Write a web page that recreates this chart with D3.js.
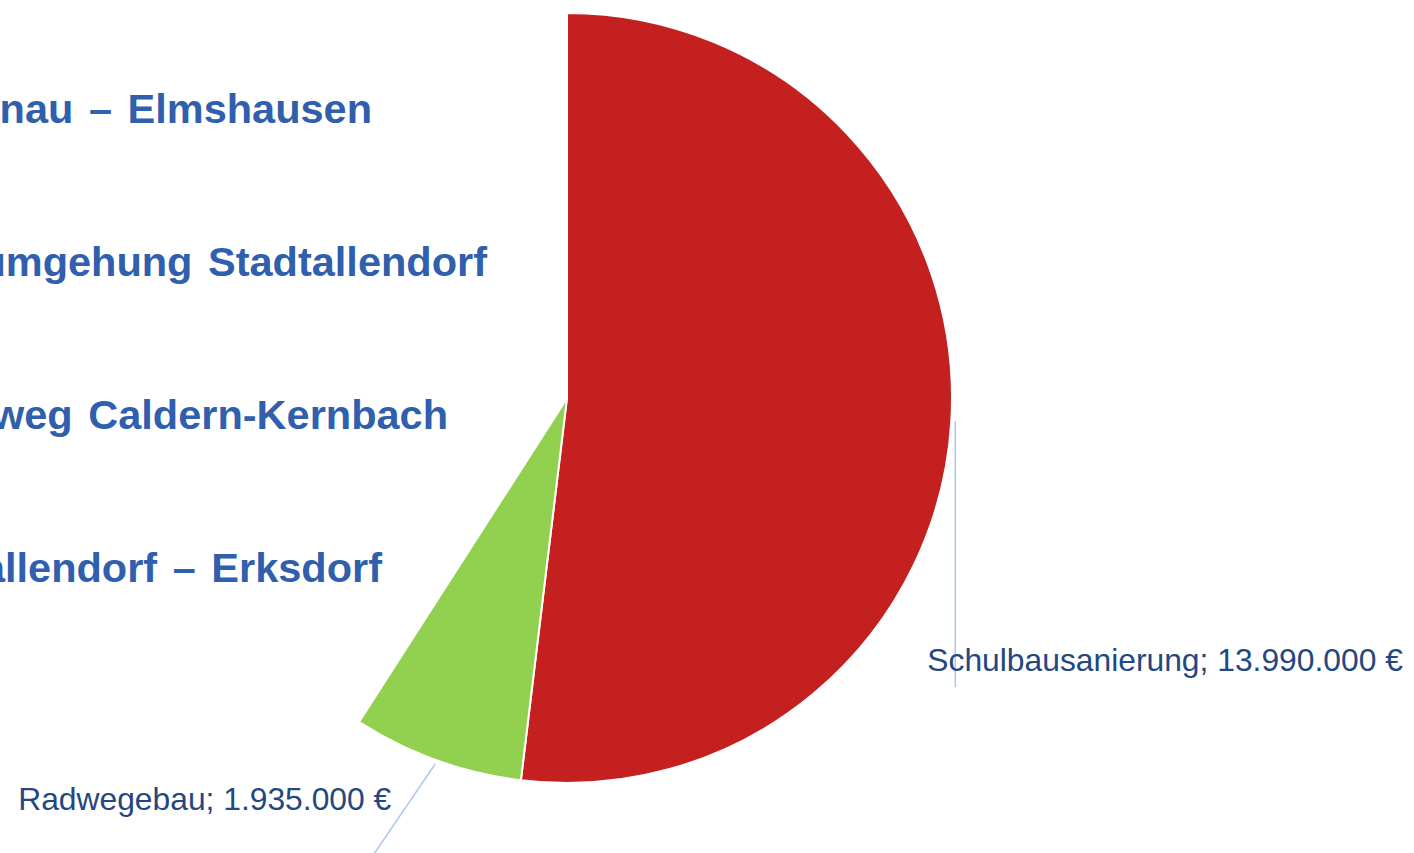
<!DOCTYPE html>
<html>
<head>
<meta charset="utf-8">
<script src="https://cdn.jsdelivr.net/npm/d3@7"></script>
<style>
  html, body { margin: 0; padding: 0; background: #fff; overflow: hidden; }
  .slabel { font-family: "Liberation Sans", Arial, sans-serif; font-size: 31.8px; fill: #24477f; }
  .proj { font-family: "Liberation Sans", Arial, sans-serif; font-size: 41.5px; font-weight: bold; fill: #2f5fad; word-spacing: 4px; }
</style>
</head>
<body>
<div class="chart"></div>
<script>
// slice data (Euro)
var categories = ["Schulbausanierung", "Radwegebau", "Sonstige"];
var values = [13990000, 1935000, 11025000];
var sliceColors = ["#c52020", "#92d050", "#ffffff"];
var showLabel = [true, true, false];

// headline texts on the left (cut off by the page edge)
var projects = [
  "Radweg Buchenau – Elmshausen",
  "Ortsumgehung Stadtallendorf",
  "Radweg  Caldern-Kernbach",
  "Radweg Stadtallendorf – Erksdorf"
];

var svgWidth = 1414;
var svgHeight = 853;
var cx = 567, cy = 398, radius = 385;

var svg = d3.select(".chart")
  .append("svg")
  .attr("width", svgWidth)
  .attr("height", svgHeight);

var data = categories.map(function(c, i) {
  return { name: c, value: values[i], color: sliceColors[i], label: showLabel[i] };
});

var pie = d3.pie()
  .sort(null)
  .value(function(d) { return d.value; });

var arc = d3.arc().innerRadius(0).outerRadius(radius);

var arcs = pie(data);

var chart = svg.append("g")
  .attr("transform", `translate(${cx}, ${cy})`);

chart.selectAll("path.slice")
  .data(arcs)
  .enter().append("path")
  .attr("class", "slice")
  .attr("d", arc)
  .style("fill", function(d) { return d.data.color; })
  .style("stroke", "#fff")
  .style("stroke-width", 2);

// project headlines, right aligned
var projY = d3.scalePoint()
  .domain(projects)
  .range([123, 582]);
var projRight = [372, 487, 448, 382];

svg.selectAll("text.proj")
  .data(projects)
  .enter().append("text")
  .attr("class", "proj")
  .attr("x", function(d, i) { return projRight[i]; })
  .attr("y", function(d) { return projY(d); })
  .attr("text-anchor", "end")
  .text(function(d) { return d; });

// leader lines + labels
var fmt = d3.formatLocale({ decimal: ",", thousands: ".", grouping: [3], currency: ["", " €"] }).format("$,");
var leaderArc = d3.arc().innerRadius(radius + 4).outerRadius(radius + 4);

function leaderStart(d) {
  var a = (d.startAngle + d.endAngle) / 2;
  return [(radius + 4) * Math.sin(a), -(radius + 4) * Math.cos(a)];
}

// leader ends / label anchors relative to slice mid-point
var labelLayout = {
  "Schulbausanierung": { end: [0, 266], tx: -28, ty: 250, anchor: "start" },
  "Radwegebau": { end: [-66, 97], tx: -44, ty: 46, anchor: "end" }
};

var lab = arcs.filter(function(d) { return d.data.label; });

chart.selectAll("line.leader")
  .data(lab)
  .enter().append("line")
  .attr("class", "leader")
  .attr("x1", function(d) { return leaderStart(d)[0]; })
  .attr("y1", function(d) { return leaderStart(d)[1]; })
  .attr("x2", function(d) { return leaderStart(d)[0] + labelLayout[d.data.name].end[0]; })
  .attr("y2", function(d) { return leaderStart(d)[1] + labelLayout[d.data.name].end[1]; })
  .style("stroke", "#aec6ea")
  .style("stroke-width", 1.5);

chart.selectAll("text.slabel")
  .data(lab)
  .enter().append("text")
  .attr("class", "slabel")
  .attr("x", function(d) { return leaderStart(d)[0] + labelLayout[d.data.name].tx; })
  .attr("y", function(d) { return leaderStart(d)[1] + labelLayout[d.data.name].ty; })
  .attr("text-anchor", function(d) { return labelLayout[d.data.name].anchor; })
  .text(function(d) { return d.data.name + "; " + fmt(d.data.value); });
</script>
</body>
</html>
